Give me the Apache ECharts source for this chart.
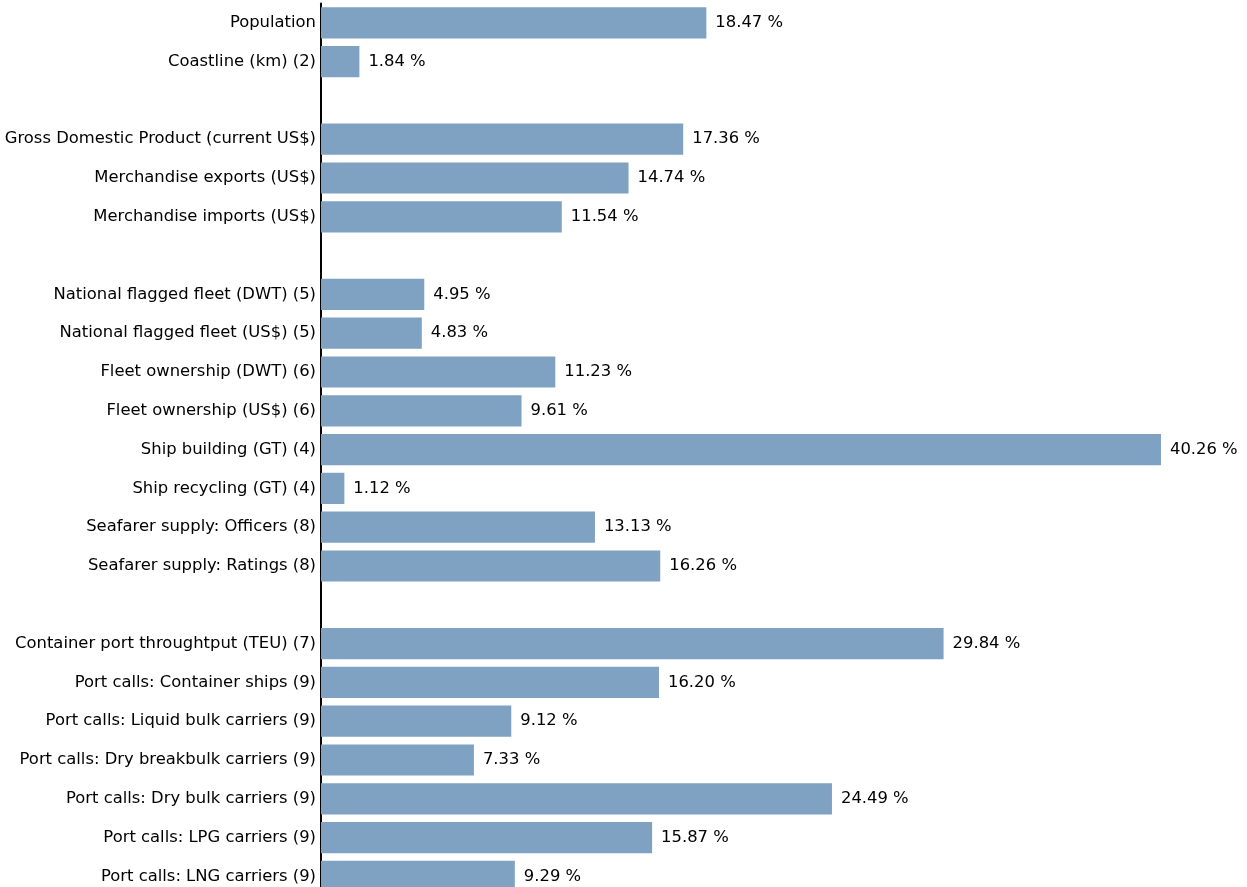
<!DOCTYPE html>
<html><head><meta charset="utf-8">
<script src="https://cdn.jsdelivr.net/npm/echarts@6/dist/echarts.min.js"></script>
<style>html,body{margin:0;padding:0;background:#fff;overflow:hidden}#c{width:1247px;height:900px}</style>
</head><body><div id="c"></div>
<script>
const categories = [
  "Population", "Coastline (km) (2)", "",
  "Gross Domestic Product (current US$)", "Merchandise exports (US$)", "Merchandise imports (US$)", " ",
  "National flagged fleet (DWT) (5)", "National flagged fleet (US$) (5)", "Fleet ownership (DWT) (6)",
  "Fleet ownership (US$) (6)", "Ship building (GT) (4)", "Ship recycling (GT) (4)",
  "Seafarer supply: Officers (8)", "Seafarer supply: Ratings (8)", "  ",
  "Container port throughtput (TEU) (7)", "Port calls: Container ships (9)", "Port calls: Liquid bulk carriers (9)",
  "Port calls: Dry breakbulk carriers (9)", "Port calls: Dry bulk carriers (9)", "Port calls: LPG carriers (9)",
  "Port calls: LNG carriers (9)"
];
const values = [
  18.47, 1.84, null,
  17.36, 14.74, 11.54, null,
  4.95, 4.83, 11.23, 9.61, 40.26, 1.12, 13.13, 16.26, null,
  29.84, 16.20, 9.12, 7.33, 24.49, 15.87, 9.29
];
const chart = echarts.init(document.getElementById('c'));
const FONT = '"DejaVu Sans", sans-serif';
chart.setOption({
  animation: false,
  grid: { left: 321, top: 3.4, height: 892.4, width: 44 * 20.864 },
  xAxis: { type: 'value', min: 0, max: 44, show: false },
  yAxis: {
    type: 'category', data: categories, inverse: true,
    axisLine: { show: true, lineStyle: { color: '#000', width: 2 } },
    axisTick: { show: false },
    axisLabel: { color: '#000', fontSize: 16.4, fontFamily: FONT, margin: 5 }
  },
  series: [{
    type: 'bar', data: values, barCategoryGap: '19.5%',
    itemStyle: { color: '#7fa1c2' },
    label: {
      show: true, position: 'right', distance: 9, color: '#000', fontSize: 16.4, fontFamily: FONT,
      formatter: p => p.value == null ? '' : p.value.toFixed(2) + ' %'
    }
  }]
});
</script></body></html>
